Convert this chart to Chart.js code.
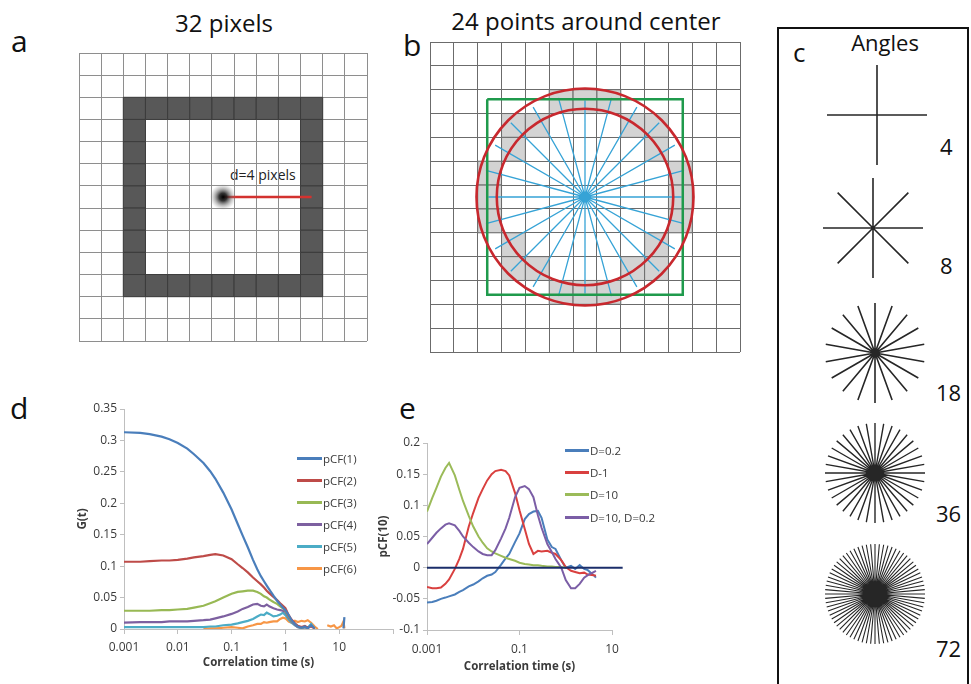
<!DOCTYPE html>
<html lang="en">
<head>
<meta charset="utf-8">
<title>Pair correlation function figure</title>
<script src="https://cdn.jsdelivr.net/npm/chart.js@4.4.1/dist/chart.umd.min.js"></script>
<style>
  html,body{margin:0;padding:0;background:#fff;}
  body{position:relative;width:971px;height:684px;overflow:hidden;font-family:"Open Sans",sans-serif;color:#111;}
  canvas{position:absolute;}
  .txt{position:absolute;white-space:nowrap;line-height:1;}
  .letter{font-size:30px;}
  .ptitle{font-size:24px;transform:translateX(-50%);}
  .num{font-size:22px;}
  #boxC{position:absolute;left:777px;top:27px;width:188px;height:720px;border:2px solid #111;}
  .legend{position:absolute;left:0;top:0;font-size:11.5px;color:#3a3a3a;}
  .legend .row{position:absolute;height:16px;display:flex;align-items:center;white-space:nowrap;}
  .legend .sw{display:inline-block;height:3px;margin-right:1px;}
</style>
</head>
<body>

<!-- panel letters and titles -->
<div class="txt letter" style="left:11px;top:26px">a</div>
<div class="txt letter" style="left:403px;top:30px">b</div>
<div class="txt letter" style="left:10px;top:393px">d</div>
<div class="txt letter" style="left:399px;top:393px">e</div>
<div class="txt ptitle" style="left:224px;top:11px">32 pixels</div>
<div class="txt ptitle" style="left:586px;top:9px">24 points around center</div>
<div class="txt" style="left:230px;top:168px;font-size:14px;color:#222">d=4 pixels</div>

<!-- panel c frame -->
<div id="boxC"></div>
<div class="txt" style="left:793px;top:39px;font-size:26px">c</div>
<div class="txt" style="left:885px;top:31px;font-size:22px;transform:translateX(-50%)">Angles</div>
<div id="starLabels"></div>

<canvas id="gridA" width="314" height="314" style="left:66px;top:40px"></canvas>
<canvas id="gridB" width="314" height="314" style="left:428px;top:40px"></canvas>
<div id="stars"></div>

<canvas id="chartD" width="360" height="289" style="left:40px;top:395px"></canvas>
<canvas id="chartE" width="255" height="254" style="left:372px;top:430px"></canvas>
<div id="legendD" class="legend"></div>
<div id="legendE" class="legend"></div>

<script>
// ---------------- data ----------------
// pixel grid (13 x 13 cells), grid line positions in cell units
const gridLines = [0,1,2,3,4,5,6,7,8,9,10,11,12,13];

// panel a: the 32 dark pixels of the square ring, as [column, row]
const ringCells = [
  [2,2],[3,2],[4,2],[5,2],[6,2],[7,2],[8,2],[9,2],[10,2],
  [2,3],[10,3],[2,4],[10,4],[2,5],[10,5],[2,6],[10,6],[2,7],[10,7],[2,8],[10,8],[2,9],[10,9],
  [2,10],[3,10],[4,10],[5,10],[6,10],[7,10],[8,10],[9,10],[10,10]
];
const sourceCell = [6, 6];       // pixel holding the source point
const distancePixels = 4;        // d = 4 pixels

// panel b: the 24 pixels around the centre, as [column, row]
const circleCells = [
  [5,2],[6,2],[7,2],[3,3],[4,3],[8,3],[9,3],[3,4],[9,4],
  [2,5],[10,5],[2,6],[10,6],[2,7],[10,7],
  [3,8],[9,8],[3,9],[4,9],[8,9],[9,9],[5,10],[6,10],[7,10]
];
const rayAngles = [0,15,30,45,60,75,90,105,120,135,150,165,180,195,210,225,240,255,270,285,300,315,330,345];
const rayReach  = [4.05,4.3,4.35,4.4,4.35,4.3, 4.05,4.3,4.35,4.4,4.35,4.3,
                   4.05,4.3,4.35,4.4,4.35,4.3, 4.05,4.3,4.35,4.4,4.35,4.3];
const ringRadii = [3.7, 4.55];   // inner and outer circle, cells
const windowHalf = 4.1;          // half side of the square window, cells

// panel c: number of angles per star
const starCounts = [4, 8, 18, 36, 72];
const starStartDeg = [0, 0, 90, 0, 0];

// panel d: pair correlation at distances 1..6
const tD = [0.001,0.002,0.003,0.005,0.007,0.01,0.015,0.02,0.03,0.04,0.05,0.07,
            0.1,0.13,0.16,0.2,0.25,0.3,0.35,0.4,0.45,0.5,0.6,0.7,
            0.8,0.9,1,1.15,1.3,1.5,1.7,2,2.3,2.6,3,3.5,
            4,5,6,7,8,9,10,11,12,12.5];
const pcf1 = [0.313,0.312,0.310,0.306,0.302,0.296,0.287,0.278,0.264,0.251,0.239,0.217,
              0.190,0.167,0.149,0.130,0.110,0.095,0.084,0.076,0.069,0.063,0.053,0.045,
              0.039,0.034,0.030,0.022,0.014,0.008,0.004,0.002,0.004,0.001,0.006,0.001,
              null,null,null,null,null,null,null,null,0.001,0.019];
const pcf2 = [0.107,0.107,0.108,0.109,0.109,0.110,0.112,0.114,0.116,0.118,0.119,0.117,
              0.111,0.103,0.097,0.090,0.082,0.076,0.071,0.066,0.061,0.057,0.051,0.046,
              0.041,0.037,0.033,0.022,0.015,0.009,0.005,0.003,0.005,0.002,0.004,0.001,
              null,null,null,null,null,null,null,null,null,null];
const pcf3 = [0.029,0.029,0.029,0.030,0.030,0.031,0.032,0.034,0.037,0.041,0.044,0.050,
              0.056,0.059,0.060,0.061,0.061,0.059,0.056,0.052,0.050,0.047,0.043,0.040,
              0.036,0.033,0.029,0.020,0.013,0.008,0.004,0.002,0.004,0.001,null,null,
              null,null,null,null,null,null,null,null,null,null];
const pcf4 = [0.010,0.011,0.011,0.011,0.012,0.012,0.012,0.013,0.014,0.015,0.017,0.020,
              0.024,0.028,0.032,0.035,0.039,0.040,0.037,0.036,0.039,0.036,0.033,0.031,
              0.030,0.029,0.027,0.018,0.012,0.007,0.003,0.002,0.003,0.001,null,null,
              null,null,null,null,null,null,null,null,null,null];
const pcf5 = [0.003,0.003,0.003,0.003,0.003,0.003,0.003,0.003,0.003,0.004,0.004,0.006,
              0.007,0.009,0.011,0.013,0.016,0.020,0.023,0.022,0.026,0.024,0.020,0.021,
              0.023,0.026,0.022,0.015,0.010,0.006,0.003,0.001,0.003,0.002,0.008,0.000,
              null,null,null,null,null,null,null,null,null,null];
const pcf6 = [null,null,null,null,null,null,null,null,0.000,0.001,0.001,0.002,
              0.003,0.002,0.001,0.004,0.006,0.008,0.008,0.011,0.010,0.011,0.012,0.012,
              0.016,0.018,0.017,0.012,0.010,0.013,0.011,0.013,0.012,0.014,0.010,0.004,
              0.000,null,0.006,0.004,0.006,0.001,0.003,0.005,0.012,0.001];
const labelsD = ['pCF(1)','pCF(2)','pCF(3)','pCF(4)','pCF(5)','pCF(6)'];
const xTicksD = [0.001,0.01,0.1,1,10,100];
const xLabelsD = ['0.001','0.01','0.1','1','10',''];
const yTicksD = [0,0.05,0.1,0.15,0.2,0.25,0.3,0.35];
const yLabelsD = ['0','0.05','0.1','0.15','0.2','0.25','0.3','0.35'];

// panel e: pCF(10) for different diffusion coefficients
const tE = [0.001,0.0013,0.0016,0.002,0.0025,0.003,0.004,0.005,0.006,0.008,
            0.01,0.013,0.016,0.02,0.025,0.03,0.04,0.05,0.06,0.08,
            0.1,0.13,0.16,0.2,0.25,0.3,0.4,0.5,0.6,0.8,
            1,1.3,1.6,2,2.5,3,4,4.5];
const dE02 = [-0.056,-0.055,-0.053,-0.050,-0.048,-0.046,-0.043,-0.039,-0.036,-0.030,
              -0.027,-0.022,-0.017,-0.013,-0.011,-0.007,0.005,0.015,0.022,0.041,
              0.055,0.078,0.086,0.090,0.091,0.080,0.045,0.033,0.030,0.012,
              0.000,0.003,-0.002,0.004,-0.002,-0.004,-0.012,-0.016];
const dE1  = [-0.031,-0.033,-0.033,-0.032,-0.026,-0.019,-0.002,0.014,0.030,0.066,
              0.088,0.112,0.126,0.140,0.150,0.155,0.157,0.155,0.148,0.120,
              0.092,0.062,0.038,0.022,0.027,0.026,0.027,0.024,0.022,0.012,
              0.001,-0.005,-0.007,-0.009,-0.008,-0.011,-0.012,-0.013];
const dE10 = [0.090,0.112,0.128,0.146,0.160,0.168,0.148,0.125,0.107,0.083,
              0.066,0.050,0.040,0.031,0.026,0.023,0.019,0.016,0.014,0.011,
              0.008,0.006,0.005,0.004,0.004,0.003,0.002,0.002,0.001,0.001,
              0.000,null,null,null,null,null,null,null];
const dE10and02 = [0.038,0.048,0.056,0.063,0.069,0.071,0.068,0.059,0.050,0.040,
              0.033,0.026,0.022,0.020,0.020,0.028,0.047,0.063,0.080,0.113,
              0.128,0.131,0.126,0.113,0.084,0.064,0.038,0.025,0.014,0.000,
              -0.020,-0.033,-0.033,-0.026,-0.016,-0.012,-0.007,-0.005];
const zeroLineT = [0.001, 17];
const zeroLineV = [0, 0];
const labelsE = ['D=0.2','D-1','D=10','D=10, D=0.2'];
const xTicksE = [0.001,0.1,10];
const xLabelsE = ['0.001','0.1','10'];
const yTicksE = [-0.1,-0.05,0,0.05,0.1,0.15,0.2];
const yLabelsE = ['-0.1','-0.05','0','0.05','0.1','0.15','0.2'];

// ---------------- drawing ----------------
const colorsD = ['#4a7ebb','#be4b48','#98b954','#7d60a0','#4bacc6','#f79646'];
const colorsE = ['#4a7ebb','#d9403f','#9bbb59','#7b5ea6'];
const FONT = '"Open Sans", sans-serif';
const INK = '#3a3a3a';
Chart.defaults.font.family = FONT;

const pts = (xs, ys) => xs.map((x, i) => ({x, y: ys[i]}));
const baseOpts = {responsive:false, animation:false, devicePixelRatio:1, events:[],
                  plugins:{legend:{display:false}, tooltip:{enabled:false}}};

// pixel size of one grid cell, taken from the x scale
function cellPx(c) {
  const s = c.chart.scales.x;
  if (!s) return 0;
  const v = Math.abs(s.getPixelForValue(1) - s.getPixelForValue(0));
  return isFinite(v) ? v : 0;
}
function gridScale(color, reverse) {
  return {
    type:'linear', min:gridLines[0], max:gridLines[gridLines.length-1], reverse,
    afterBuildTicks: s => { s.ticks = gridLines.map(v => ({value:v})); },
    ticks:{display:false},
    grid:{color, lineWidth:1, drawTicks:false},
    border:{display:false}
  };
}
const cellCentre = ([c, r]) => ({x:c + 0.5, y:r + 0.5});
function cellDataset(cells, fill, edge, order) {
  return {type:'scatter', data:cells.map(cellCentre), order,
          pointStyle:'rect', pointRadius: c => cellPx(c) / Math.SQRT2,
          pointBackgroundColor:fill, pointBorderColor:edge, pointBorderWidth:1};
}

// ---- panel a ----
const src = cellCentre(sourceCell);
new Chart(document.getElementById('gridA'), {
  type:'scatter',
  data:{datasets:[
    cellDataset(ringCells, '#585858', '#3c3c3c', 5),
    {data:[src, {x:src.x + distancePixels, y:src.y}], showLine:true, order:2,
     borderColor:'#d3322f', borderWidth:2.5, pointRadius:0},
    {data:[src], order:1, pointRadius:13, pointBorderWidth:0,
     pointBackgroundColor: c => {
       const sx = c.chart.scales.x, sy = c.chart.scales.y;
       if (!c.raw || !sx || !sy) return '#222';
       const px = sx.getPixelForValue(c.raw.x);
       const py = sy.getPixelForValue(c.raw.y);
       if (!isFinite(px) || !isFinite(py)) return '#222';
       const g = c.chart.ctx.createRadialGradient(px, py, 0, px, py, 13);
       g.addColorStop(0, 'rgba(0,0,0,1)');
       g.addColorStop(0.3, 'rgba(30,30,30,0.9)');
       g.addColorStop(0.65, 'rgba(100,100,100,0.45)');
       g.addColorStop(1, 'rgba(150,150,150,0)');
       return g;
     }}
  ]},
  options:Object.assign({}, baseOpts, {
    layout:{padding:2},
    scales:{x:gridScale('#8e8e8e', false), y:gridScale('#8e8e8e', true)}
  })
});

// ---- panel b ----
const centreB = cellCentre(sourceCell);
const rayPath = [centreB];
rayAngles.forEach((a, i) => {
  const r = a * Math.PI / 180;
  rayPath.push({x:centreB.x + rayReach[i] * Math.cos(r), y:centreB.y - rayReach[i] * Math.sin(r)}, centreB);
});
const windowPath = [
  {x:centreB.x - windowHalf, y:centreB.y - windowHalf}, {x:centreB.x + windowHalf, y:centreB.y - windowHalf},
  {x:centreB.x + windowHalf, y:centreB.y + windowHalf}, {x:centreB.x - windowHalf, y:centreB.y + windowHalf},
  {x:centreB.x - windowHalf, y:centreB.y - windowHalf}
];
new Chart(document.getElementById('gridB'), {
  type:'scatter',
  data:{datasets:[
    cellDataset(circleCells, '#d3d3d3', '#6b6b6b', 5),
    {data:rayPath, showLine:true, order:4, borderColor:'#36a3d6', borderWidth:1.3,
     borderJoinStyle:'bevel', pointRadius:0},
    {data:windowPath, showLine:true, order:3, borderColor:'#1f9a4c', borderWidth:2.5,
     borderJoinStyle:'miter', pointRadius:0},
    {data:ringRadii.map(() => centreB), order:2, pointStyle:'circle',
     pointRadius: c => ringRadii[c.dataIndex] * cellPx(c),
     pointBackgroundColor:'rgba(0,0,0,0)', pointBorderColor:'#c8282e', pointBorderWidth:2.6}
  ]},
  options:Object.assign({}, baseOpts, {
    layout:{padding:2},
    scales:{x:gridScale('#6b6b6b', false), y:gridScale('#6b6b6b', true)}
  })
});

// ---- panel c ----
const starCentres = [[877,115],[873,228],[875,353],[875,473],[875,594]];
const starLabelPos = [[940,135],[940,254],[936,381],[936,502],[936,637]];
const starWidths = [1.6, 1.6, 1.6, 1.4, 1.1];
const starsBox = document.getElementById('stars');
const labelBox = document.getElementById('starLabels');
starCounts.forEach((n, k) => {
  const cv = document.createElement('canvas');
  cv.width = 112; cv.height = 112;
  cv.style.left = (starCentres[k][0] - 56) + 'px';
  cv.style.top = (starCentres[k][1] - 56) + 'px';
  starsBox.appendChild(cv);
  const path = [{x:0, y:0}];
  for (let i = 0; i < n; i++) {
    const a = (starStartDeg[k] + i * 360 / n) * Math.PI / 180;
    path.push({x:Math.cos(a), y:Math.sin(a)}, {x:0, y:0});
  }
  new Chart(cv, {
    type:'scatter',
    data:{datasets:[{data:path, showLine:true, borderColor:'#262626', borderWidth:starWidths[k],
                     borderJoinStyle:'bevel', pointRadius:0}]},
    options:Object.assign({}, baseOpts, {
      layout:{padding:0},
      scales:{x:{display:false, min:-1.12, max:1.12}, y:{display:false, min:-1.12, max:1.12}}
    })
  });
  const lab = document.createElement('div');
  lab.className = 'txt num';
  lab.style.left = starLabelPos[k][0] + 'px';
  lab.style.top = starLabelPos[k][1] + 'px';
  lab.textContent = String(n);
  labelBox.appendChild(lab);
});

// ---- shared axis helpers for d and e ----
function fixedTicks(values, labels, pad) {
  return {
    afterBuildTicks: s => { s.ticks = values.map(v => ({value:v})); },
    ticks:{autoSkip:false, maxRotation:0, minRotation:0, color:INK, padding:pad,
           font:{size:12, family:FONT}, callback:(v, i) => labels[i]}
  };
}
const axisGrid = {drawOnChartArea:false, drawTicks:true, color:'#bfbfbf', lineWidth:1};
const axisTitleFont = {size:11.5, weight:'bold', family:FONT};

// ---- panel d ----
const seriesD = [pcf1, pcf2, pcf3, pcf4, pcf5, pcf6];
new Chart(document.getElementById('chartD'), {
  type:'scatter',
  data:{datasets:seriesD.map((s, i) => ({
    label:labelsD[i], data:pts(tD, s), showLine:true, spanGaps:false,
    borderColor:colorsD[i], borderWidth:2.2, pointRadius:0, order:i
  }))},
  options:Object.assign({}, baseOpts, {
    layout:{padding:{top:14, right:7, left:0, bottom:0}},
    scales:{
      x:Object.assign(fixedTicks(xTicksD, xLabelsD, 6), {
        type:'logarithmic', min:0.001, max:100,
        afterFit: s => { s.height = 55; },
        grid:Object.assign({tickLength:5}, axisGrid), border:{color:'#bfbfbf'},
        title:{display:true, text:'Correlation time (s)', color:INK,
               font:axisTitleFont, padding:{top:0, bottom:14}}
      }),
      y:Object.assign(fixedTicks(yTicksD, yLabelsD, 3), {
        type:'linear', min:0, max:0.35,
        afterFit: s => { s.width = 84; },
        grid:Object.assign({tickLength:4}, axisGrid), border:{color:'#bfbfbf'},
        title:{display:true, text:'G(t)', color:INK,
               font:axisTitleFont, padding:{top:36, bottom:0}}
      })
    }
  })
});

// ---- panel e ----
const seriesE = [dE02, dE1, dE10, dE10and02];
const dsE = seriesE.map((s, i) => ({
  label:labelsE[i], data:pts(tE, s), showLine:true, spanGaps:false,
  borderColor:colorsE[i], borderWidth:2, pointRadius:0, order:4 - i
}));
dsE.push({data:pts(zeroLineT, zeroLineV), showLine:true, clip:false,
          borderColor:'#1b2e6a', borderWidth:2, pointRadius:0, order:0});
new Chart(document.getElementById('chartE'), {
  type:'scatter',
  data:{datasets:dsE},
  options:Object.assign({}, baseOpts, {
    layout:{padding:{top:13, right:15, left:0, bottom:0}},
    scales:{
      x:Object.assign(fixedTicks(xTicksE, xLabelsE, 7), {
        type:'logarithmic', min:0.001, max:10,
        afterFit: s => { s.height = 54; },
        grid:Object.assign({tickLength:5}, axisGrid), border:{color:'#bfbfbf'},
        title:{display:true, text:'Correlation time (s)', color:INK,
               font:axisTitleFont, padding:{top:0, bottom:10}}
      }),
      y:Object.assign(fixedTicks(yTicksE, yLabelsE, 3), {
        type:'linear', min:-0.1, max:0.2,
        afterFit: s => { s.width = 55; },
        grid:Object.assign({tickLength:4}, axisGrid), border:{color:'#bfbfbf'},
        title:{display:true, text:'pCF(10)', color:INK,
               font:axisTitleFont, padding:{top:5, bottom:0}}
      })
    }
  })
});

// ---- legends ----
function htmlLegend(id, labels, colors, left, firstCentre, step, swatch) {
  const box = document.getElementById(id);
  labels.forEach((t, i) => {
    const row = document.createElement('div');
    row.className = 'row';
    row.style.left = left + 'px';
    row.style.top = (firstCentre + i * step - 8) + 'px';
    const sw = document.createElement('span');
    sw.className = 'sw';
    sw.style.width = swatch + 'px';
    sw.style.background = colors[i];
    const tx = document.createElement('span');
    tx.textContent = t;
    row.appendChild(sw); row.appendChild(tx);
    box.appendChild(row);
  });
}
htmlLegend('legendD', labelsD, colorsD, 297, 458, 22, 25);
htmlLegend('legendE', labelsE, colorsE, 565, 450, 22.4, 24);
</script>
</body>
</html>
